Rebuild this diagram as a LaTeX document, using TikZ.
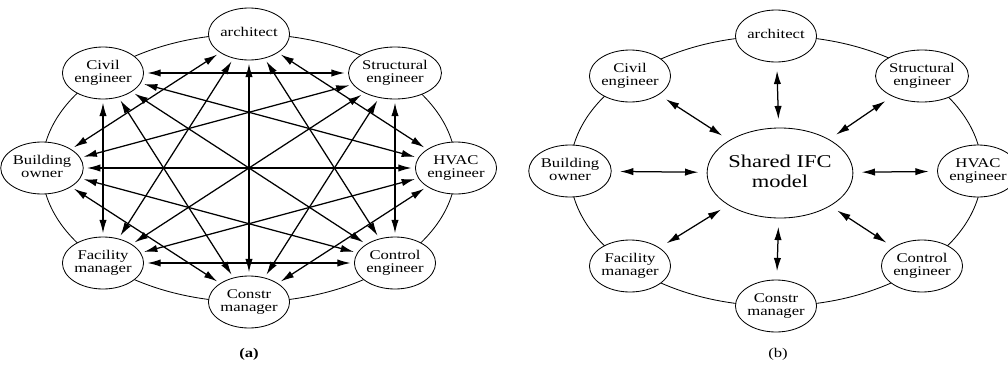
\documentclass[tikz,border=0pt]{standalone}
\usepackage{graphicx}
\usepackage{fontspec}
\setmainfont{Liberation Serif}
\usetikzlibrary{shapes.geometric,arrows.meta}

% the source figure is squeezed vertically, so is its lettering
\newcommand{\squash}[1]{\scalebox{1}[0.8]{\begin{tabular}{@{}c@{}}#1\end{tabular}}}

\tikzset{
  role/.style={ellipse,draw,fill=white,line width=0.5pt,minimum width=45.6pt,
    minimum height=31.2pt,inner sep=0pt,font=\fontsize{10}{10}\selectfont},
  model/.style={role,minimum width=84pt,minimum height=54pt,font=\fontsize{13.5}{15}\selectfont},
  ring/.style={line width=0.5pt},
  link/.style={{Latex[length=8pt,width=4.4pt]}-{Latex[length=8pt,width=4.4pt]},
    line width=0.75pt,shorten <=2pt,shorten >=2pt},
  hub/.style={link,shorten <=5pt,shorten >=5pt},
}

\begin{document}
\begin{tikzpicture}[x=0.6pt,y=0.6pt]
    \useasboundingbox (0,0) rectangle (1008,364);

    % (a) everybody talks to everybody
    \draw[ring] (249,196) ellipse [x radius=207,y radius=134];

    \node[role] (arch)  at (249,330) {\squash{architect}};
    \node[role] (struc) at (395,291) {\squash{Structural\\engineer}};
    \node[role] (hvac)  at (456,196) {\squash{HVAC\\engineer}};
    \node[role] (ctrl)  at (395,101) {\squash{Control\\engineer}};
    \node[role] (cons)  at (249,62)  {\squash{Constr\\manager}};
    \node[role] (fac)   at (103,101) {\squash{Facility\\manager}};
    \node[role] (owner) at (42,196)  {\squash{Building\\owner}};
    \node[role] (civil) at (103,291) {\squash{Civil\\engineer}};

    \draw[link] (arch) -- (hvac);
    \draw[link] (arch) -- (ctrl);
    \draw[link] (arch) -- (cons);
    \draw[link] (arch) -- (fac);
    \draw[link] (arch) -- (owner);
    \draw[link] (struc) -- (ctrl);
    \draw[link] (struc) -- (cons);
    \draw[link] (struc) -- (fac);
    \draw[link] (struc) -- (owner);
    \draw[link] (struc) -- (civil);
    \draw[link] (hvac) -- (cons);
    \draw[link] (hvac) -- (fac);
    \draw[link] (hvac) -- (owner);
    \draw[link] (hvac) -- (civil);
    \draw[link] (ctrl) -- (fac);
    \draw[link] (ctrl) -- (owner);
    \draw[link] (ctrl) -- (civil);
    \draw[link] (cons) -- (owner);
    \draw[link] (cons) -- (civil);
    \draw[link] (fac) -- (civil);

    \node[font=\bfseries] (capa) at (249,10) {\scalebox{1}[0.8]{(a)}};

    % (b) everybody talks to the model
    \draw[ring] (776,193) ellipse [x radius=206,y radius=135];

    \node[model] (ifc) at (780,191) {\squash{Shared IFC\\model}};

    \node[role] (arch2)  at (776,328) {\squash{architect}};
    \node[role] (struc2) at (922,288) {\squash{Structural\\engineer}};
    \node[role] (hvac2)  at (978,193) {\squash{HVAC\\engineer}};
    \node[role] (ctrl2)  at (922,98)  {\squash{Control\\engineer}};
    \node[role] (cons2)  at (776,58)  {\squash{Constr\\manager}};
    \node[role] (fac2)   at (630,98)  {\squash{Facility\\manager}};
    \node[role] (owner2) at (570,193) {\squash{Building\\owner}};
    \node[role] (civil2) at (630,288) {\squash{Civil\\engineer}};

    \draw[hub] (ifc) -- (arch2);
    \draw[hub] (ifc) -- (struc2);
    \draw[hub] (ifc) -- (hvac2);
    \draw[hub] (ifc) -- (ctrl2);
    \draw[hub] (ifc) -- (cons2);
    \draw[hub] (ifc) -- (fac2);
    \draw[hub] (ifc) -- (owner2);
    \draw[hub] (ifc) -- (civil2);

    \node (capb) at (778,10) {\scalebox{1}[0.8]{(b)}};
\end{tikzpicture}
\end{document}
